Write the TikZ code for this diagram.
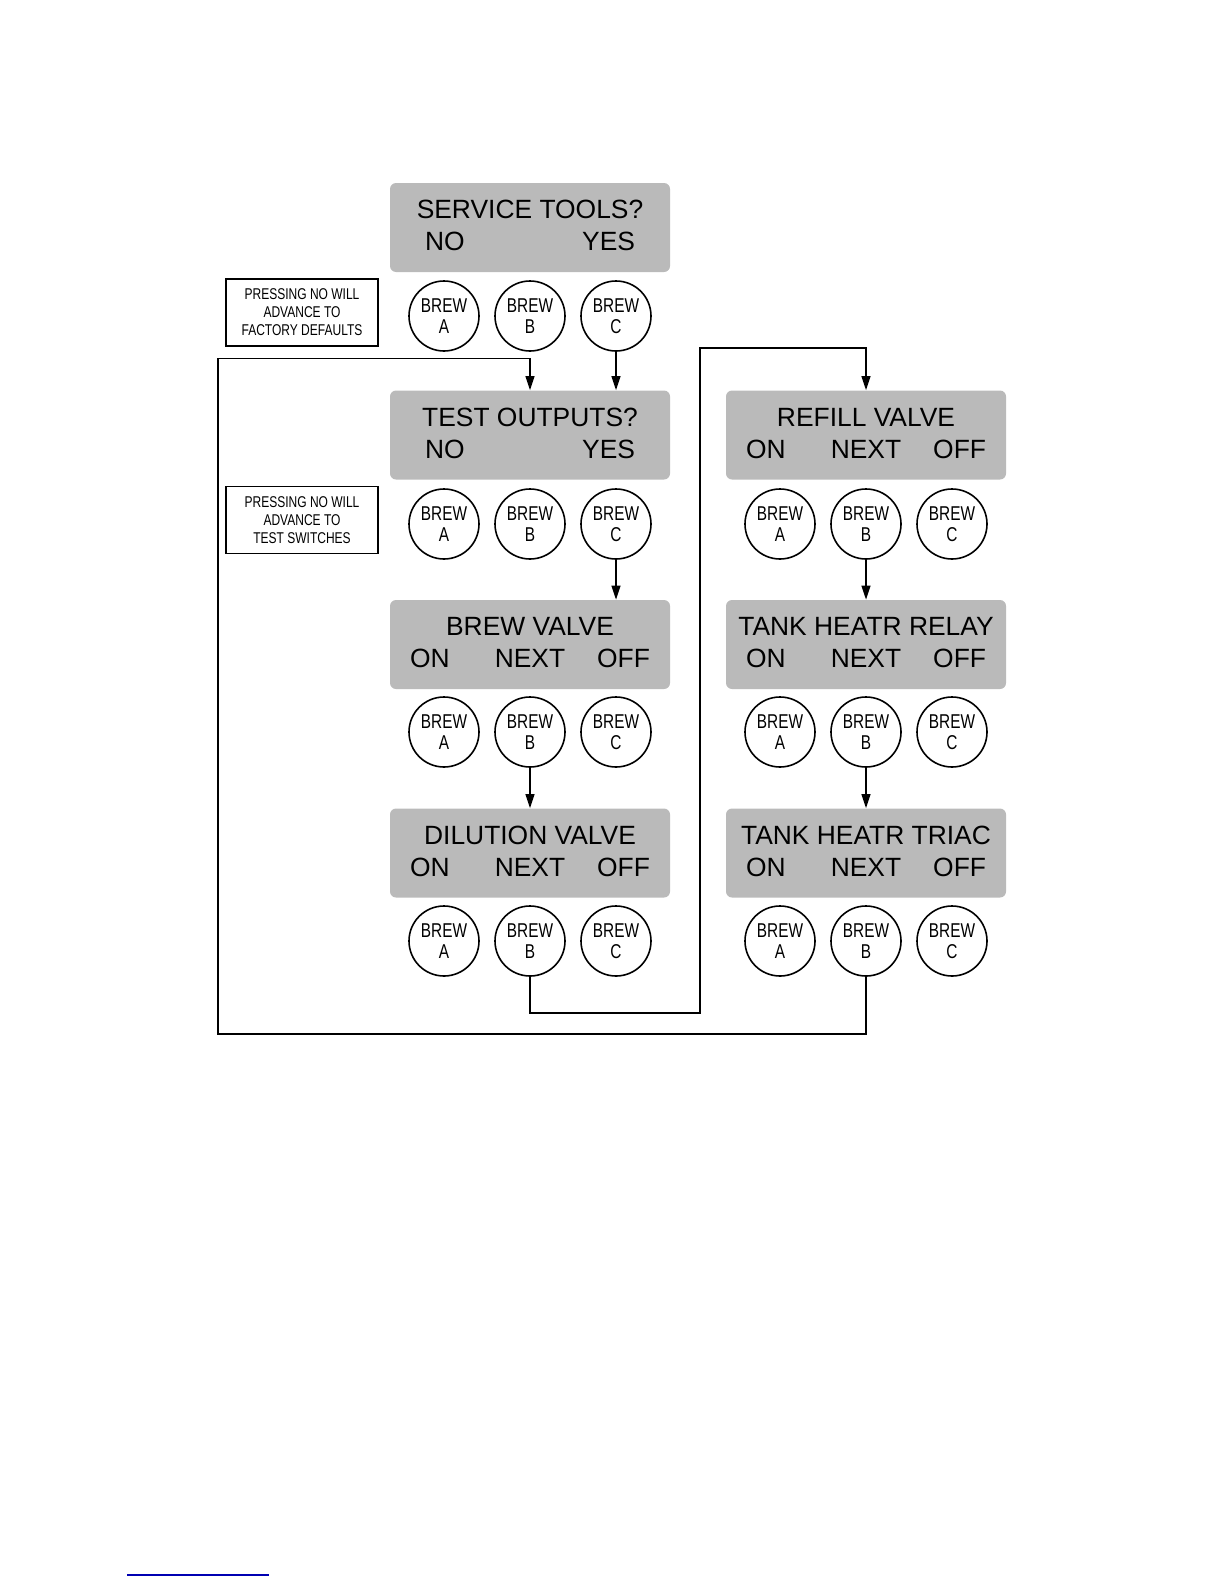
\documentclass[tikz,border=0pt]{standalone}
\usepackage{fontspec}
\setmainfont{Liberation Sans}
\newfontfamily\strettofont[FakeStretch=0.77]{Liberation Sans}
\usetikzlibrary{arrows.meta}

\newcommand{\duevoci}[2]{\makebox[105pt]{#1\hfill #2}}
\newcommand{\trevoci}{\makebox[120pt]{\rlap{ON}\hfill NEXT\hfill\llap{OFF}}}

\begin{document}
\begin{tikzpicture}[
    x=0.5pt, y=-0.5pt,
    display/.style={
        fill=black!27,
        rounded corners=3pt,
        minimum width=140pt,
        minimum height=44.5pt,
        align=center,
        inner sep=0pt,
        text depth=2pt,
        font=\fontsize{13.2}{16}\selectfont
    },
    tasto/.style={
        draw,
        circle,
        line width=0.8pt,
        minimum size=35pt,
        inner sep=0pt,
        align=center,
        execute at begin node={\rule{0pt}{10.2pt}},
        font=\strettofont\fontsize{10}{10.5}\selectfont
    },
    nota/.style={
        draw,
        line width=0.9pt,
        rectangle,
        minimum width=76pt,
        minimum height=33.5pt,
        align=center,
        inner sep=0pt,
        font=\strettofont\fontsize{7.8}{9}\selectfont
    },
    freccia/.style={
        line width=0.7pt,
        -{Triangle[length=7pt,width=4.5pt]}
    }
]
    \useasboundingbox (0,0) rectangle (1224,1584);

    % Display colonna sinistra
    \node[display] (srv) at (530,227.5) {SERVICE TOOLS?\\\duevoci{NO}{YES}};
    \node[display] (test) at (530,435) {TEST OUTPUTS?\\\duevoci{NO}{YES}};
    \node[display] (brew) at (530,644.5) {BREW VALVE\\\trevoci};
    \node[display] (dil) at (530,853) {DILUTION VALVE\\\trevoci};

    % Display colonna destra
    \node[display] (refill) at (866,435) {REFILL VALVE\\\trevoci};
    \node[display] (relay) at (866,644.5) {TANK HEATR RELAY\\\trevoci};
    \node[display] (triac) at (866,853) {TANK HEATR TRIAC\\\trevoci};

    % Tasti sotto i display
    \node[tasto] (srvA) at (444,316) {BREW\\A};
    \node[tasto] (srvB) at (530,316) {BREW\\B};
    \node[tasto] (srvC) at (616,316) {BREW\\C};
    \node[tasto] (testA) at (444,524) {BREW\\A};
    \node[tasto] (testB) at (530,524) {BREW\\B};
    \node[tasto] (testC) at (616,524) {BREW\\C};
    \node[tasto] (brewA) at (444,732) {BREW\\A};
    \node[tasto] (brewB) at (530,732) {BREW\\B};
    \node[tasto] (brewC) at (616,732) {BREW\\C};
    \node[tasto] (dilA) at (444,941) {BREW\\A};
    \node[tasto] (dilB) at (530,941) {BREW\\B};
    \node[tasto] (dilC) at (616,941) {BREW\\C};
    \node[tasto] (refillA) at (780,524) {BREW\\A};
    \node[tasto] (refillB) at (866,524) {BREW\\B};
    \node[tasto] (refillC) at (952,524) {BREW\\C};
    \node[tasto] (relayA) at (780,732) {BREW\\A};
    \node[tasto] (relayB) at (866,732) {BREW\\B};
    \node[tasto] (relayC) at (952,732) {BREW\\C};
    \node[tasto] (triacA) at (780,941) {BREW\\A};
    \node[tasto] (triacB) at (866,941) {BREW\\B};
    \node[tasto] (triacC) at (952,941) {BREW\\C};

    % Note a sinistra
    \node[nota] (nota_srv) at (302,312.5) {PRESSING NO WILL\\ADVANCE TO\\FACTORY DEFAULTS};
    \node[nota] (nota_test) at (302,520) {PRESSING NO WILL\\ADVANCE TO\\TEST SWITCHES};

    % Punti di svolta dei due anelli
    \coordinate (giro_basso) at (700,1013);
    \coordinate (giro_alto) at (700,348);
    \coordinate (anello_basso) at (218,1034);
    \coordinate (anello_alto) at (218,358.5);

    % Frecce verticali
    \draw[freccia] (srvC.south) -- (srvC.south |- test.north);
    \draw[freccia] (testC.south) -- (testC.south |- brew.north);
    \draw[freccia] (brewB.south) -- (dil.north);
    \draw[freccia] (refillB.south) -- (relay.north);
    \draw[freccia] (relayB.south) -- (triac.north);

    % Anelli di ritorno
    \draw[freccia] (dilB.south) |- (giro_basso) -- (giro_alto) -| (refill.north);
    \draw[freccia] (triacB.south) |- (anello_basso) -- (anello_alto) -| (test.north);

    % Filetto in fondo alla pagina
    \draw[line width=1pt, blue!70!black] (127,1575) -- (269,1575);

\end{tikzpicture}
\end{document}
